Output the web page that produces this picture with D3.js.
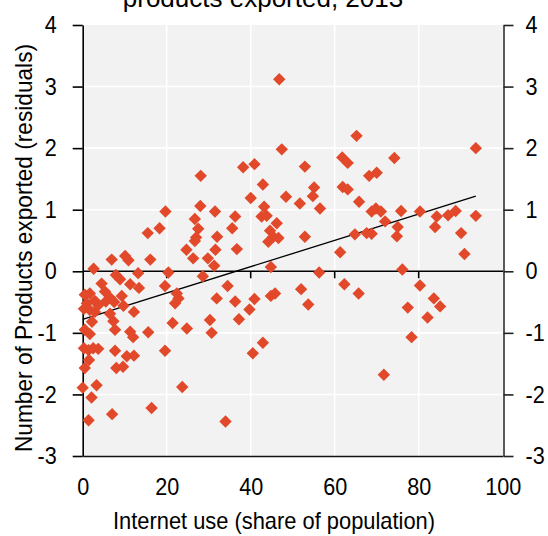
<!DOCTYPE html>
<html>
<head>
<meta charset="utf-8">
<script src="https://cdn.jsdelivr.net/npm/d3@7"></script>
<style>
  html, body { margin: 0; padding: 0; background: #fff; }
  svg text { font-family: "Liberation Sans", Arial, sans-serif; fill: #000; }
</style>
</head>
<body>
<svg id="chart" width="548" height="536"></svg>
<script>
// Internet use (share of population, %) for each country
const internetUse = [
  2.6, 6.9, 10.1, 10.9, 16.1, 7.9, 8.9, 13.2, 20.4, 4.5,
  11.3, 13.4, 19.6, 0.5, 1.7, 5.3, 6.5, 7.5, 5.5, 9.3,
  2.9, 3.7, 1.0, 0.3, 1.7, 2.9, 9.7, 12.2, 22.4, 22.8,
  22.0, 31.9, 6.5, 7.3, 7.7, 2.2, 0.5, 1.7, 11.3, 12.0,
  15.6, 21.4, 24.8, 30.3, 30.7, 0.3, 1.4, 2.5, 3.7, 1.5,
  7.7, 10.5, 12.2, 19.6, 0.5, 8.0, 9.6, 0.0, 3.3, 23.7,
  2.1, 16.4, 7.0, 1.4, 34.0, 28.1, 19.7, 28.0, 31.5, 26.7,
  27.5, 18.3, 15.5, 27.0, 26.7, 32.0, 24.7, 31.6, 26.3, 29.8,
  31.3, 28.6, 46.8, 65.2, 47.4, 38.2, 40.9, 52.9, 61.8, 63.1,
  42.9, 40.0, 48.4, 55.1, 54.8, 51.7, 56.5, 61.9, 63.1, 65.8,
  43.2, 42.6, 43.8, 36.3, 35.6, 46.2, 44.6, 45.4, 46.6, 44.2,
  52.9, 64.8, 36.7, 61.3, 44.8, 56.3, 34.5, 36.3, 40.9, 39.7,
  37.2, 44.8, 45.8, 52.0, 53.7, 62.3, 65.7, 42.9, 40.5, 74.2,
  93.6, 68.2, 70.0, 68.8, 69.8, 71.0, 72.0, 75.8, 80.3, 84.3,
  83.9, 87.0, 88.8, 93.6, 75.0, 74.8, 67.6, 68.8, 90.1, 90.9,
  76.1, 80.3, 83.6, 85.1, 77.4, 82.1, 78.3, 71.7
];

// Number of products exported (residuals), same order
const productsResidual = [
  0.04, 0.19, 0.25, 0.18, 0.19, -0.06, -0.13, -0.03, -0.02, -0.20,
  -0.21, -0.27, -0.24, -0.38, -0.36, -0.33, -0.43, -0.50, -0.49, -0.40,
  -0.48, -0.55, -0.52, -0.61, -0.63, -0.66, -0.56, -0.66, -0.36, -0.44,
  -0.52, -0.44, -0.69, -0.81, -0.95, -0.82, -0.95, -1.02, -0.98, -1.07,
  -0.99, -0.84, -0.93, -0.79, -1.00, -1.25, -1.28, -1.25, -1.26, -1.44,
  -1.29, -1.38, -1.37, -1.29, -1.57, -1.57, -1.55, -1.89, -1.85, -1.88,
  -2.05, -2.22, -2.32, -2.42, -2.44, 1.55, 0.97, 1.06, 0.97, 0.85,
  0.69, 0.70, 0.62, 0.55, 0.49, 0.56, 0.35, 0.35, 0.21, 0.21,
  0.09, -0.08, 3.12, 2.20, 1.98, 1.69, 1.74, 1.70, 1.85, 1.76,
  1.41, 1.19, 1.21, 1.36, 1.22, 1.10, 1.02, 1.37, 1.33, 1.13,
  1.05, 0.89, 0.90, 0.89, 0.70, 0.78, 0.66, 0.56, 0.54, 0.48,
  0.56, 0.60, 0.36, 0.31, 0.07, -0.02, -0.24, -0.49, -0.45, -0.62,
  -0.78, -0.40, -0.36, -0.29, -0.54, -0.21, -0.36, -1.16, -1.33, 1.84,
  2.00, 1.55, 1.60, 0.97, 1.02, 0.97, 0.81, 0.98, 0.97, 0.89,
  0.72, 0.91, 0.98, 0.90, 0.72, 0.57, 0.62, 0.61, 0.62, 0.28,
  0.03, -0.23, -0.44, -0.57, -0.59, -0.75, -1.07, -1.68
];

// Fitted trend line end points
const trendX = [0, 93.6];
const trendY = [-0.78, 1.22];

const xTicks = [0, 20, 40, 60, 80, 100];
const yTicks = [-3, -2, -1, 0, 1, 2, 3, 4];

const titleText = "products exported, 2013";
const xLabel = "Internet use (share of population)";
const yLabel = "Number of Products exported (residuals)";

const svg = d3.select("#chart");
const plotLeft = 82.7, plotRight = 503.5, plotTop = 25, plotBottom = 456;
const squeeze = 0.9; // horizontal condensing of the tick-label type

const x = d3.scaleLinear().domain([0, 100]).range([plotLeft, plotLeft + 420]);
const y = d3.scaleLinear().domain([-3, 4]).range([plotBottom, plotTop]);

// Narrow the glyphs of axis tick labels while keeping their anchor position
function condense(sel) {
  sel.each(function () {
    const t = d3.select(this);
    const x0 = +t.attr("x") || 0;
    t.attr("x", x0 / squeeze).attr("transform", `scale(${squeeze},1)`);
  });
}

// Title (second line of a two-line heading)
svg.append("text")
  .attr("x", 263).attr("y", 7)
  .attr("text-anchor", "middle")
  .style("font-size", "26px")
  .text(titleText);

// Plot background
svg.append("rect")
  .attr("x", plotLeft).attr("y", plotTop)
  .attr("width", plotRight - plotLeft).attr("height", plotBottom - plotTop)
  .attr("fill", "#f2f2f2");

// White gridlines
svg.append("g").selectAll("line")
  .data(xTicks.filter(d => d > 0 && d < 100))
  .join("line")
  .attr("x1", d => x(d)).attr("x2", d => x(d))
  .attr("y1", plotTop).attr("y2", plotBottom)
  .attr("stroke", "#fff").attr("stroke-width", 1.6);

svg.append("g").selectAll("line")
  .data(yTicks.filter(d => d > -3 && d < 4))
  .join("line")
  .attr("x1", plotLeft).attr("x2", plotRight)
  .attr("y1", d => y(d)).attr("y2", d => y(d))
  .attr("stroke", "#fff").attr("stroke-width", 1.6);

// Zero line with short downward ticks
svg.append("line")
  .attr("x1", plotLeft).attr("x2", plotRight)
  .attr("y1", y(0)).attr("y2", y(0))
  .attr("stroke", "#000").attr("stroke-width", 1.6);
svg.append("g").selectAll("line")
  .data(xTicks.filter(d => d > 0 && d < 100))
  .join("line")
  .attr("x1", d => x(d)).attr("x2", d => x(d))
  .attr("y1", y(0)).attr("y2", y(0) + 7)
  .attr("stroke", "#000").attr("stroke-width", 1.6);

// Plain integers with an ASCII hyphen for negatives
const fmt = d => String(d);

// Left axis
const yAxisL = svg.append("g")
  .attr("transform", `translate(${plotLeft},0)`)
  .call(d3.axisLeft(y).tickValues(yTicks).tickFormat(fmt).tickSize(10).tickPadding(16).tickSizeOuter(0));
yAxisL.select(".domain").attr("stroke", "#000").attr("stroke-width", 1.6);
yAxisL.selectAll(".tick line").attr("stroke", "#000").attr("stroke-width", 1.6);
yAxisL.selectAll(".tick text").style("font-size", "24px").attr("font-family", null).call(condense);

// Right axis
const yAxisR = svg.append("g")
  .attr("transform", `translate(${plotRight},0)`)
  .call(d3.axisRight(y).tickValues(yTicks).tickFormat(fmt).tickSize(10).tickPadding(12).tickSizeOuter(0));
yAxisR.select(".domain").attr("stroke", "#5a5a5a").attr("stroke-width", 2);
yAxisR.selectAll(".tick line").attr("stroke", "#222").attr("stroke-width", 1.6);
yAxisR.selectAll(".tick text").style("font-size", "24px").attr("font-family", null).call(condense);

// Bottom axis: baseline plus labels
const xAxis = svg.append("g")
  .attr("transform", `translate(0,${plotBottom})`)
  .call(d3.axisBottom(x).tickValues(xTicks).tickFormat(fmt).tickSize(0).tickPadding(22).tickSizeOuter(0));
xAxis.select(".domain").attr("stroke", "#111").attr("stroke-width", 1.6);
xAxis.selectAll(".tick text").style("font-size", "24px").attr("font-family", null).call(condense);

// Trend line
svg.append("line")
  .attr("x1", x(trendX[0])).attr("y1", y(trendY[0]))
  .attr("x2", x(trendX[1])).attr("y2", y(trendY[1]))
  .attr("stroke", "#000").attr("stroke-width", 1.3);

// Diamond markers
const points = internetUse.map((v, i) => ({ u: v, r: productsResidual[i] }));
const h = 6.2;
svg.append("g").selectAll("path")
  .data(points)
  .join("path")
  .attr("d", d => {
    const cx = x(d.u), cy = y(d.r);
    return `M${cx},${cy - h}L${cx + h},${cy}L${cx},${cy + h}L${cx - h},${cy}Z`;
  })
  .attr("fill", "#e2492a");

// Axis titles
svg.append("text")
  .attr("x", 274).attr("y", 529)
  .attr("text-anchor", "middle")
  .attr("textLength", 322).attr("lengthAdjust", "spacingAndGlyphs")
  .style("font-size", "24px")
  .text(xLabel);

svg.append("text")
  .attr("transform", "translate(32,248) rotate(-90)")
  .attr("text-anchor", "middle")
  .attr("textLength", 408).attr("lengthAdjust", "spacingAndGlyphs")
  .style("font-size", "24px")
  .text(yLabel);
</script>
</body>
</html>
